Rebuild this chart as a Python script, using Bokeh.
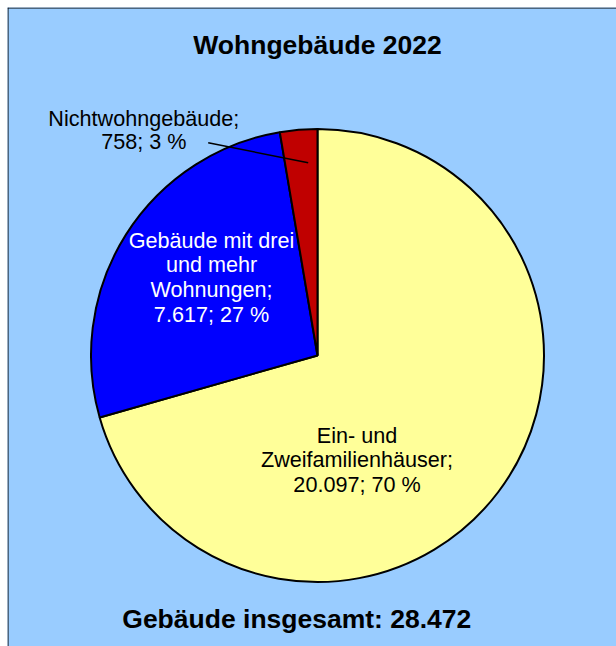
import math
from bokeh.plotting import figure
from bokeh.models import Range1d, Span, ColumnDataSource
from bokeh.core.properties import value
from bokeh.embed import file_html
from bokeh.resources import INLINE

# ---------------- data ----------------
chart_title = "Wohngebäude 2022"
categories = ["Ein- und Zweifamilienhäuser",
              "Gebäude mit drei und mehr Wohnungen",
              "Nichtwohngebäude"]
values = [20097, 7617, 758]
percents = [70, 27, 3]
label_heads = [["Ein- und", "Zweifamilienhäuser;"],
               ["Gebäude mit drei", "und mehr", "Wohnungen;"],
               ["Nichtwohngebäude;"]]
total_caption = "Gebäude insgesamt"

# ---------------- styles / layout ----------------
slice_colors = ["#FFFF99", "#0000FF", "#C00000"]
label_colors = ["black", "white", "black"]
BG = "#99CCFF"
FONT = "Liberation Sans"
W, H = 616, 646
ML, MT = 7, 7
TEXT_DY = -7   # baseline correction (page px)


def de_num(v):
    return f"{v:,}".replace(",", ".")


def px(x):   # page x -> data x
    return x - 8


def py(y):   # page y -> data y
    return 646 - y


def ty_(y):  # page baseline -> data y for text
    return py(y + TEXT_DY)


p = figure(width=W, height=H, output_backend="svg", toolbar_location=None,
           x_range=Range1d(-1, W - 8), y_range=Range1d(0, H - MT),
           min_border_left=ML, min_border_top=MT, min_border_right=0, min_border_bottom=0)
p.axis.visible = False
p.grid.visible = False
p.background_fill_color = BG
p.border_fill_color = "white"
p.outline_line_color = None

# border (left / top visible)
p.add_layout(Span(location=-0.5, dimension="height", line_color="black", line_width=1))
p.add_layout(Span(location=H - MT - 0.5, dimension="width", line_color="black", line_width=1))

# ---------------- pie ----------------
cx, cy, r = px(317.0), py(355.0), 226.5
total = sum(values)
starts, ends = [], []
cum = 0.0
for v in values:
    a0 = math.pi / 2 - 2 * math.pi * cum / total
    cum += v
    a1 = math.pi / 2 - 2 * math.pi * cum / total
    # clockwise from 12 o'clock -> anticlock wedge from a1 to a0
    starts.append(a1)
    ends.append(a0)

src = ColumnDataSource(dict(start=starts, end=ends, color=slice_colors, cat=categories))
p.wedge(x=cx, y=cy, radius=r, start_angle="start", end_angle="end",
        fill_color="color", line_color="black", line_width=2, source=src)

# ---------------- labels ----------------
label_pos = [  # (page center x, first baseline page y, line spacing)
    (356.5, 441.7, 24.5),
    (211.0, 246.7, 24.7),
    (143.3, 125.0, 23.4),
]
tx, ty, tt, tc = [], [], [], []
for i, v in enumerate(values):
    lines = label_heads[i] + [f"{de_num(v)}; {percents[i]} %"]
    x0, y0, dy = label_pos[i]
    for k, ln in enumerate(lines):
        tx.append(px(x0))
        ty.append(ty_(y0 + k * dy))
        tt.append(ln)
        tc.append(label_colors[i])
p.text(x=tx, y=ty, text=tt, text_color=tc, text_font=value(FONT),
       text_font_size="21.6px", text_align="center", text_baseline="alphabetic")

# leader line for the small slice
p.line(x=[px(207.7), px(307.7)], y=[py(142.3), py(162.3)], line_color="black", line_width=1.5)

# ---------------- title & total ----------------
p.text(x=[px(317.0)], y=[ty_(51.7)], text=[chart_title], text_font=value(FONT),
       text_font_size="26.5px", text_font_style="bold", text_align="center",
       text_baseline="alphabetic", text_color="black")
p.text(x=[px(296.3)], y=[ty_(625.7)], text=[f"{total_caption}: {de_num(total)}"],
       text_font=value(FONT), text_font_size="26.5px", text_font_style="bold",
       text_align="center", text_baseline="alphabetic", text_color="black")

open("out.html", "w").write(file_html(p, INLINE))
